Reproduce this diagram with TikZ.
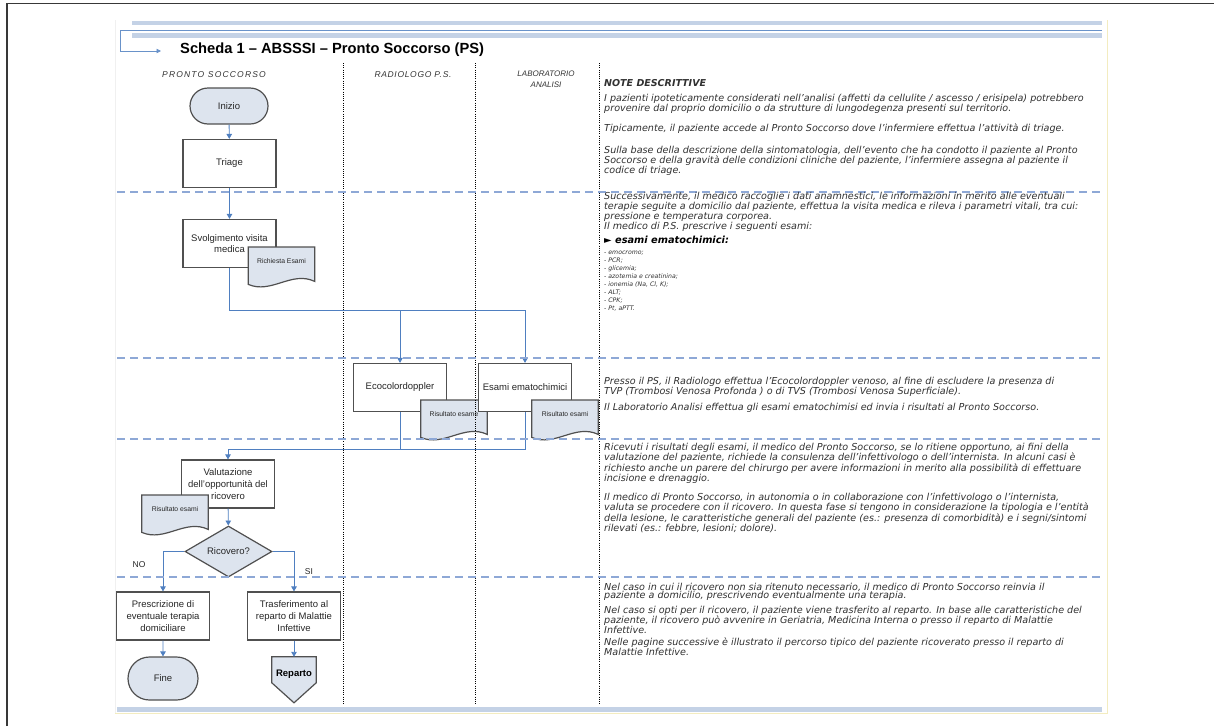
\documentclass[tikz,border=0pt]{standalone}
\usepackage{fontspec}
\setmainfont{Liberation Sans}
\newfontfamily\notefont{DejaVu Sans}
\usetikzlibrary{shapes.geometric,shapes.misc,arrows.meta,calc}

\definecolor{boxgray}{HTML}{505050}
\definecolor{softfill}{HTML}{DDE4EE}
\definecolor{flowblue}{HTML}{4F7FC0}
\definecolor{dashblue}{HTML}{8EA8D6}
\definecolor{bandblue}{HTML}{C4D2E6}
\definecolor{nodetext}{HTML}{262626}
\definecolor{notegray}{HTML}{303030}
\definecolor{headgray}{HTML}{333333}
\definecolor{pageedge}{HTML}{F3ECC0}

% one paragraph of notes: a stack of lines, baseline at the first line
\newcommand\notepar[1]{\vtop{#1}}

\tikzset{
  procbox/.style={draw=boxgray, line width=1.2pt, fill=white, minimum width=93pt,
    minimum height=48pt, inner sep=2pt, align=center, text=nodetext,
    font=\fontsize{9.5}{11.8}\selectfont},
  termbox/.style={rounded rectangle, draw=boxgray, line width=1.2pt, fill=softfill,
    inner sep=0pt, text=nodetext, font=\fontsize{9.5}{11.5}\selectfont},
  decbox/.style={diamond, draw=boxgray, line width=1.2pt, fill=softfill,
    minimum width=87pt, minimum height=51pt, inner sep=0pt, text=nodetext,
    font=\fontsize{9.5}{11.5}\selectfont},
  docbox/.style={anchor=north, minimum width=66pt, minimum height=40pt, inner sep=0pt},
  docline/.style={draw=boxgray, line width=1.2pt, fill=softfill},
  doctext/.style={inner sep=0pt, text=nodetext, font=\fontsize{6.8}{8}\selectfont, anchor=base},
  flow/.style={draw=flowblue, line width=0.9pt, -{Triangle[length=5pt,width=5.5pt]}},
  flowplain/.style={draw=flowblue, line width=0.9pt},
  lanesep/.style={draw=black, line width=1pt, dash pattern=on 1pt off 1.2pt},
  rowsep/.style={draw=dashblue, line width=1.4pt, dash pattern=on 8pt off 5pt},
  band/.style={draw=bandblue, line width=4.5pt},
  lanehead/.style={inner sep=0pt, text=headgray, align=center,
    font=\itshape\fontsize{8.5}{11}\selectfont},
  notes/.style={anchor=base west, inner sep=0pt, text=notegray,
    font=\notefont\itshape\fontsize{9.6}{8.8}\selectfont},
  lbl/.style={inner sep=0pt, text=nodetext, font=\fontsize{8.5}{10}\selectfont},
}

% document symbol drawn over the named (invisible) node, with its caption
\newcommand\docoutline[2]{%
  \path[docline] (#1.north west) -- (#1.north east) -- ($(#1.south east)+(0,-6)$)
    .. controls ($(#1.south east)+(-23,-17)$) and ($(#1.south west)+(23,7)$)
    .. ($(#1.south west)+(0,-3)$) -- cycle;
  \node[doctext] (#1t) at ($(#1.north)+(0,16)$) {#2};}

\begin{document}
\begin{tikzpicture}[x=1pt,y=-1pt]
\useasboundingbox (0,0) rectangle (1214,726);

% page frame and page edges
\draw[line width=1.4pt, draw=black!78] (7,726) -- (7,3.5) -- (1214,3.5);
\draw[line width=0.8pt, draw=pageedge] (1107,20) -- (1107,713) -- (115,713);
\draw[line width=0.6pt, draw=black!6] (115,20) -- (115,713);

% header bands
\draw[band] (132,23) -- (1102,23);
\draw[band] (132,35.5) -- (1102,35.5);
\draw[band] (117,709.5) -- (1102,709.5);

% header bracket pointing at the title
\coordinate (hb1) at (1102,30);
\coordinate (hb2) at (120,30);
\coordinate (hb3) at (120,51);
\coordinate (hb4) at (161,51);
\draw[draw=flowblue!85, line width=0.8pt, -{Triangle[length=4.5pt,width=4.5pt]}]
  (hb1) -- (hb2) -- (hb3) -- (hb4);

\node[anchor=base west, inner sep=0pt, font=\bfseries\fontsize{14.7}{16}\selectfont]
  (title) at (180,53) {Scheda 1 – ABSSSI – Pronto Soccorso (PS)};

% lane headings
\node[lanehead, anchor=base] (hps) at (214,77)
  {\addfontfeatures{LetterSpace=14}PRONTO SOCCORSO};
\node[lanehead, anchor=base] (hrad) at (413,77)
  {\addfontfeatures{LetterSpace=8}RADIOLOGO P.S.};
\node[lanehead, font=\itshape\fontsize{8}{10.5}\selectfont] (hlab) at (546,79)
  {LABORATORIO\\ANALISI};

% ---------- Pronto Soccorso lane ----------
\node[termbox, minimum width=78pt, minimum height=36pt] (ini) at (229,106) {Inizio};
\node[procbox] (tri) at (229.5,163.5) {Triage};
\node[procbox] (svo) at (229.5,243.5) {Svolgimento visita\\medica};
\node[docbox] (req) at (281.5,247) {};
\docoutline{req}{Richiesta Esami}

% ---------- Radiologo / Laboratorio lanes ----------
\node[procbox] (eco) at (400,387.5) {Ecocolordoppler};
\node[docbox] (res1) at (454,400) {};
\docoutline{res1}{Risultato esame}
\node[procbox] (esa) at (525,387.5) {Esami ematochimici};
\node[docbox] (res2) at (565,400) {};
\docoutline{res2}{Risultato esami}

% ---------- evaluation and outcome ----------
\node[procbox] (val) at (228,484) {Valutazione\\dell’opportunità del\\ricovero};
\node[docbox] (res3) at (175,495) {};
\docoutline{res3}{Risultato esami}
\node[decbox] (dec) at (228.5,551.5) {Ricovero?};
\node[procbox] (pre) at (163,616) {Prescrizione di\\eventuale terapia\\domiciliare};
\node[procbox] (tra) at (294,616) {Trasferimento al\\reparto di Malattie\\Infettive};
\node[termbox, minimum width=70pt, minimum height=43pt] (fin) at (163,678.5) {Fine};
\node[inner sep=0pt, minimum width=44pt, minimum height=34pt] (rep) at (294,674) {};
\path[docline] (rep.north west) -- (rep.north east) -- ($(rep.north east)+(0,26)$)
  -- ($(rep.north)+(0,46)$) -- ($(rep.north west)+(0,26)$) -- cycle;
\node[inner sep=0pt, text=black, font=\bfseries\fontsize{9.5}{11}\selectfont]
  (reptext) at (rep.center) {Reparto};

% ---------- connectors ----------
\coordinate (r1) at (0,310);
\coordinate (r2) at (0,449);
\draw[flow] (ini) -- (tri);
\draw[flow] (tri) -- (svo);
\draw[flow] (svo.south) -- (svo.south |- r1) -| (esa.north);
\draw[flow] (eco.north |- r1) -- (eco.north);
\draw[flowplain] (eco.south) -- (eco.south |- r2);
\draw[flow] (esa.south) -- (esa.south |- r2) -| (val.north);
\draw[flow] (val) -- (dec);
\draw[flow] (dec.west) -| (pre.north);
\draw[flow] (dec.east) -| (tra.north);
\draw[flow] (pre) -- (fin);
\draw[flow] (tra.south) -- (rep.north);
\node[lbl] (lno) at (139,565) {NO};
\node[lbl] (lsi) at (309,572) {SI};

% ---------- lane and row separators ----------
\draw[lanesep] (343,63) -- (343,705);
\draw[lanesep] (475,63) -- (475,705);
\draw[lanesep] (599,63) -- (599,705);
\draw[rowsep] (117,192) -- (1100,192);
\draw[rowsep] (117,358) -- (1100,358);
\draw[rowsep] (117,439) -- (1100,439);
\draw[rowsep] (117,577) -- (1100,577);

% ---------- descriptive notes ----------
\node[notes, font=\notefont\bfseries\itshape\fontsize{9.5}{10}\selectfont] (nhead)
  at (604,86) {NOTE DESCRITTIVE};
\node[notes] (n1) at (604,101) {\notepar{%
  \hbox{I pazienti ipoteticamente considerati nell’analisi (affetti da cellulite / ascesso / erisipela) potrebbero}
  \hbox{provenire dal proprio domicilio o da strutture di lungodegenza presenti sul territorio.}}};
\node[notes] (n2) at (604,131) {\notepar{%
  \hbox{Tipicamente, il paziente accede al Pronto Soccorso dove l’infermiere effettua l’attività di triage.}}};
\node[notes] (n3) at (604,153) {\notepar{%
  \hbox{Sulla base della descrizione della sintomatologia, dell’evento che ha condotto il paziente al Pronto}
  \hbox{Soccorso e della gravità delle condizioni cliniche del paziente, l’infermiere assegna al paziente il}
  \hbox{codice di triage.}}};
\node[notes] (n4) at (604,199) {\notepar{%
  \hbox{Successivamente, il medico raccoglie i dati anamnestici, le informazioni in merito alle eventuali}
  \hbox{terapie seguite a domicilio dal paziente, effettua la visita medica e rileva i parametri vitali, tra cui:}
  \hbox{pressione e temperatura corporea.}
  \hbox{Il medico di P.S. prescrive i seguenti esami:}}};
\node[notes, font=\notefont\bfseries\itshape\fontsize{9.8}{10}\selectfont, text=black]
  (n5) at (604,243) {► esami ematochimici:};
\node[notes, font=\notefont\itshape\fontsize{6.2}{7.93}\selectfont] (n6) at (604,254.5)
  {\notepar{%
  \hbox{- emocromo;}\hbox{- PCR;}\hbox{- glicemia;}\hbox{- azotemia e creatinina;}
  \hbox{- ionemia (Na, Cl, K);}\hbox{- ALT;}\hbox{- CPK;}\hbox{- Pt, aPTT.}}};
\node[notes] (n7) at (604,384) {\notepar{%
  \hbox{Presso il PS, il Radiologo effettua l’Ecocolordoppler venoso, al fine di escludere la presenza di}
  \hbox{TVP (Trombosi Venosa Profonda ) o di TVS (Trombosi Venosa Superficiale).}}};
\node[notes] (n8) at (604,410) {\notepar{%
  \hbox{Il Laboratorio Analisi effettua gli esami ematochimisi ed invia i risultati al Pronto Soccorso.}}};
\node[notes] (n9) at (604,450) {\notepar{%
  \hbox{Ricevuti i risultati degli esami, il medico del Pronto Soccorso, se lo ritiene opportuno, ai fini della}
  \hbox{valutazione del paziente, richiede la consulenza dell’infettivologo o dell’internista. In alcuni casi è}
  \hbox{richiesto anche un parere del chirurgo per avere informazioni in merito alla possibilità di effettuare}
  \hbox{incisione e drenaggio.}}};
\node[notes] (n10) at (604,500) {\notepar{%
  \hbox{Il medico di Pronto Soccorso, in autonomia o in collaborazione con l’infettivologo o l’internista,}
  \hbox{valuta se procedere con il ricovero. In questa fase si tengono in considerazione la tipologia e l’entità}
  \hbox{della lesione, le caratteristiche generali del paziente (es.: presenza di comorbidità) e i segni/sintomi}
  \hbox{rilevati (es.: febbre, lesioni; dolore).}}};
\node[notes] (n11) at (604,590) {\notepar{%
  \hbox{Nel caso in cui il ricovero non sia ritenuto necessario, il medico di Pronto Soccorso reinvia il}
  \hbox{paziente a domicilio, prescrivendo eventualmente una terapia.}}};
\node[notes] (n12) at (604,613) {\notepar{%
  \hbox{Nel caso si opti per il ricovero, il paziente viene trasferito al reparto. In base alle caratteristiche del}
  \hbox{paziente, il ricovero può avvenire in Geriatria, Medicina Interna o presso il reparto di Malattie}
  \hbox{Infettive.}}};
\node[notes] (n13) at (604,645) {\notepar{%
  \hbox{Nelle pagine successive è illustrato il percorso tipico del paziente ricoverato presso il reparto di}
  \hbox{Malattie Infettive.}}};
\end{tikzpicture}
\end{document}
